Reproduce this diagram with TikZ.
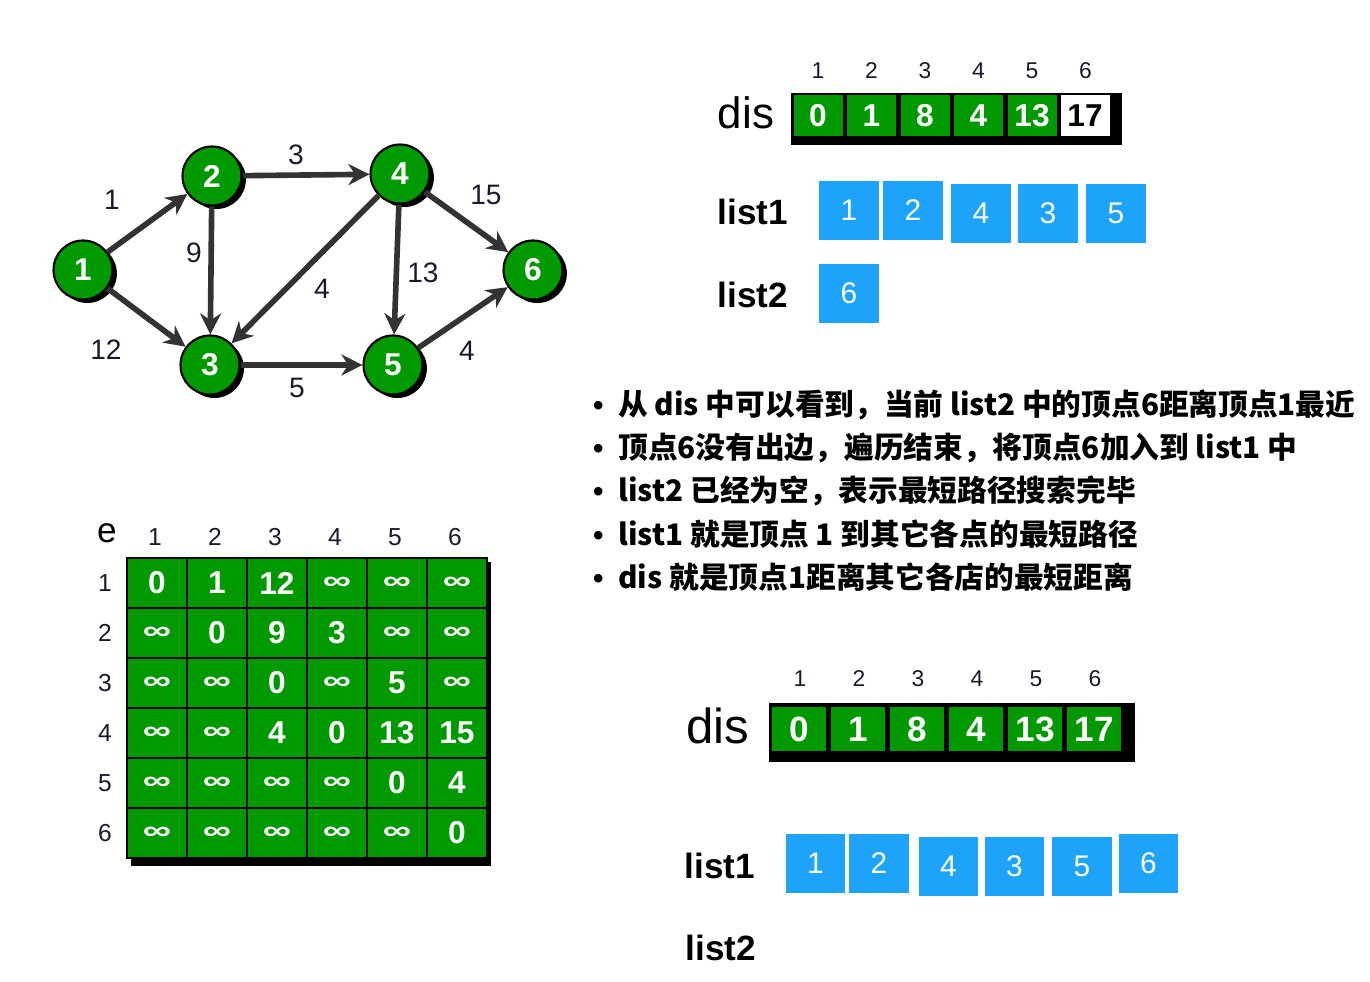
\documentclass[tikz,border=0pt]{standalone}
\usepackage{fontspec}
\setmainfont{Liberation Sans}
\newfontfamily\cjk{Noto Sans CJK SC}
\usetikzlibrary{arrows.meta,shadows}
\definecolor{cellgreen}{RGB}{0,153,0}
\definecolor{listblue}{RGB}{30,163,250}
\definecolor{edgegray}{RGB}{51,51,51}
\definecolor{numcolor}{RGB}{25,25,45}
\newcommand{\infsign}{\scalebox{1.5}[1]{\fontsize{15}{15}\selectfont ∞}}

\tikzset{
  vertex/.style={circle, fill=cellgreen, draw=black, line width=1.2pt, minimum size=1.18cm, inner sep=0pt,
    text=white, font=\fontsize{18}{18}\selectfont\bfseries,
    drop shadow={shadow xshift=2.5pt, shadow yshift=-2pt, opacity=1, fill=black}},
  edge/.style={edgegray, line width=3.2pt, -{Stealth[length=12pt,width=12pt]}},
  wlabel/.style={numcolor, font=\fontsize{16}{16}\selectfont},
  idx/.style={numcolor, font=\fontsize{13}{13}\selectfont},
  discell/.style={fill=cellgreen, minimum width=0.98cm, minimum height=0.82cm, inner sep=0pt,
    text=white, font=\fontsize{18}{18}\selectfont\bfseries},
  mcell/.style={fill=cellgreen, draw=black, line width=1.4pt, minimum width=1.2cm, minimum height=1cm, inner sep=0pt,
    text=white, font=\fontsize{18}{18}\selectfont\bfseries},
  listbox/.style={fill=listblue, minimum size=1.19cm, inner sep=0pt, text=white, font=\fontsize{17}{17}\selectfont},
  listname/.style={font=\fontsize{20}{20}\selectfont\bfseries},
  disname/.style={font=\fontsize{25}{25}\selectfont},
  bullet/.style={anchor=west, font=\cjk\bfseries\fontsize{16.9}{16.9}\selectfont}
}
\newcommand{\bul}{{\rmfamily\bfseries •}\hspace{0.5em}}

\begin{document}
\begin{tikzpicture}[x=0.02cm, y=-0.02cm]
        \useasboundingbox (0,0) rectangle (1370,982);

        % Graph
        \node[vertex] (v1) at (83,270) {1};
        \node[vertex] (v2) at (212,176) {2};
        \node[vertex] (v3) at (210,365) {3};
        \node[vertex] (v4) at (400,174) {4};
        \node[vertex] (v5) at (393,365) {5};
        \node[vertex] (v6) at (533,270) {6};

        \draw[edge] (v1) -- (v2);
        \draw[edge] (v1) -- (v3);
        \draw[edge] (v2) -- (v4);
        \draw[edge] (v2) -- (v3);
        \draw[edge] (v4) -- (v3);
        \draw[edge] (v4) -- (v5);
        \draw[edge] (v4) -- (v6);
        \draw[edge] (v3) -- (v5);
        \draw[edge] (v5) -- (v6);

        \node[wlabel] (w12) at (112,200) {1};
        \node[wlabel] (w13) at (106,350) {12};
        \node[wlabel] (w24) at (296,155) {3};
        \node[wlabel] (w23) at (194,253) {9};
        \node[wlabel] (w43) at (322,289) {4};
        \node[wlabel] (w45) at (423,273) {13};
        \node[wlabel] (w46) at (486,195) {15};
        \node[wlabel] (w35) at (297,388) {5};
        \node[wlabel] (w56) at (467,351) {4};

        % dis (top)
        \node[disname] (disA) at (746,113) {dis};
        \fill[black] (791,93) rectangle (1122,145);
        \foreach \v [count=\i] in {0,1,8,4,13,17} {
            \node[idx] (ia\i) at ({818+53.5*(\i-1)},71) {\i};
            \node[discell] (da\i) at ({818+53.5*(\i-1)},116) {\v};
        }
        \node[discell, fill=white, text=black] (da6) at (1085,116) {17};

        % list1 / list2 (top)
        \node[listname] (l1A) at (753,212) {list1};
        \node[listname] (l2A) at (753,295) {list2};
        \node[listbox] (a1) at (849,210.5) {1};
        \node[listbox] (a2) at (913,210.5) {2};
        \node[listbox] (a3) at (981,213.5) {4};
        \node[listbox] (a4) at (1048,213.5) {3};
        \node[listbox] (a5) at (1116,213.5) {5};
        \node[listbox] (b1) at (849,293.5) {6};

        % Notes
        \node[bullet] (t1) at (587,405) {\bul 从 dis 中可以看到，当前 list2 中的顶点6距离顶点1最近};
        \node[bullet] (t2) at (587,448) {\bul 顶点6没有出边，遍历结束，将顶点6加入到 list1 中};
        \node[bullet] (t3) at (587,491) {\bul list2 已经为空，表示最短路径搜索完毕};
        \node[bullet] (t4) at (587,534) {\bul list1 就是顶点 1 到其它各点的最短路径};
        \node[bullet] (t5) at (587,577) {\bul dis 就是顶点1距离其它各店的最短距离};

        % Matrix e
        \node[font=\fontsize{20}{20}\selectfont] (ename) at (107,533) {e};
        \fill[black] (131,562) rectangle (491,866);
        \foreach \i in {1,...,6} {
            \node[idx, font=\fontsize{14}{14}\selectfont] (ch\i) at ({155+60*(\i-1)},537) {\i};
            \node[idx, font=\fontsize{14}{14}\selectfont] (rh\i) at (105,{583+50*(\i-1)}) {\i};
        }
        \foreach \vals [count=\r] in {{0,1,12,\infsign,\infsign,\infsign},
                                      {\infsign,0,9,3,\infsign,\infsign},
                                      {\infsign,\infsign,0,\infsign,5,\infsign},
                                      {\infsign,\infsign,4,0,13,15},
                                      {\infsign,\infsign,\infsign,\infsign,0,4},
                                      {\infsign,\infsign,\infsign,\infsign,\infsign,0}} {
            \foreach \v [count=\c] in \vals {
                \node[mcell] (m-\r-\c) at ({157+60*(\c-1)},{583+50*(\r-1)}) {\v};
            }
        }

        % dis (bottom)
        \node[disname, font=\fontsize{28}{28}\selectfont] (disB) at (718,726) {dis};
        \fill[black] (769,703) rectangle (1135,762);
        \foreach \v [count=\i] in {0,1,8,4,13,17} {
            \node[idx] (ib\i) at ({800+59*(\i-1)},679) {\i};
            \node[discell, minimum width=1.08cm, minimum height=0.9cm, font=\fontsize{20}{20}\selectfont\bfseries] (db\i) at ({799+59*(\i-1)},729) {\v};
        }

        % list1 / list2 (bottom)
        \node[listname] (l1B) at (720,866) {list1};
        \node[listname] (l2B) at (721,948) {list2};
        \node[listbox] (c1) at (815.5,863.5) {1};
        \node[listbox] (c2) at (879,863.5) {2};
        \node[listbox] (c3) at (948.5,866.5) {4};
        \node[listbox] (c4) at (1014.5,866.5) {3};
        \node[listbox] (c5) at (1082,866.5) {5};
        \node[listbox] (c6) at (1148.5,863.5) {6};

\end{tikzpicture}
\end{document}
